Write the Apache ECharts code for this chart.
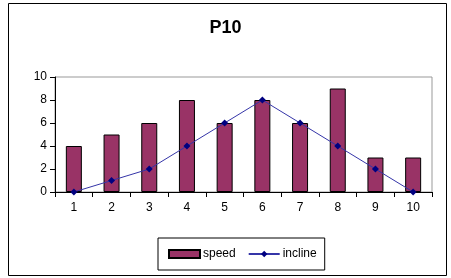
<!DOCTYPE html>
<html>
<head>
<meta charset="utf-8">
<script src="https://cdn.jsdelivr.net/npm/echarts@6/dist/echarts.min.js"></script>
<style>
  html, body { margin: 0; padding: 0; background: #fff; }
  #chart { width: 451px; height: 278px; }
</style>
</head>
<body>
<div id="chart"></div>
<script>
var categories = ['1', '2', '3', '4', '5', '6', '7', '8', '9', '10'];
var speed = [4, 5, 6, 8, 6, 8, 6, 9, 3, 3];
var incline = [0, 1, 2, 4, 6, 8, 6, 4, 2, 0];

var myChart = echarts.init(document.getElementById('chart'));
myChart.setOption({
  animation: false,
  textStyle: { fontFamily: 'Liberation Sans, Arial, sans-serif' },
  title: {
    text: 'P10',
    left: 'center',
    top: 14,
    textStyle: { fontSize: 18, fontWeight: 'bold', color: '#000', fontFamily: 'Liberation Sans, Arial, sans-serif' }
  },
  graphic: [{
    type: 'rect',
    shape: { x: 8.5, y: 3.5, width: 438, height: 272 },
    style: { fill: 'none', stroke: '#000', lineWidth: 1 },
    silent: true
  }],
  legend: {
    left: 158,
    top: 238,
    padding: [10, 8, 10, 10],
    itemGap: 12,
    itemWidth: 31,
    itemHeight: 8,
    borderColor: '#000',
    borderWidth: 1,
    borderRadius: 0,
    textStyle: { fontSize: 12, color: '#000', padding: [0, 0, 0, -2] },
    data: [{ name: 'speed', icon: 'rect' }, { name: 'incline' }]
  },
  grid: {
    left: 55,
    right: 19,
    top: 77,
    bottom: 86,
    show: true,
    borderColor: '#999',
    borderWidth: 1
  },
  xAxis: {
    type: 'category',
    data: categories,
    axisLine: { lineStyle: { color: '#000', width: 1 } },
    axisTick: { show: true, length: 5, lineStyle: { color: '#000' } },
    axisLabel: { color: '#000', fontSize: 12, margin: 10 }
  },
  yAxis: {
    type: 'value',
    min: 0,
    max: 10,
    interval: 2,
    axisLine: { show: true, lineStyle: { color: '#000', width: 1 } },
    axisTick: { show: true, length: 5, lineStyle: { color: '#000' } },
    axisLabel: { color: '#000', fontSize: 12, margin: 8 },
    splitLine: { show: false }
  },
  series: [
    {
      name: 'speed',
      type: 'bar',
      data: speed,
      barWidth: 16,
      itemStyle: { color: '#993366', borderColor: '#000', borderWidth: 1 }
    },
    {
      name: 'incline',
      type: 'line',
      data: incline,
      symbol: 'diamond',
      symbolSize: 7,
      lineStyle: { color: '#3535a8', width: 1 },
      itemStyle: { color: '#000080' }
    }
  ]
});
</script>
</body>
</html>
